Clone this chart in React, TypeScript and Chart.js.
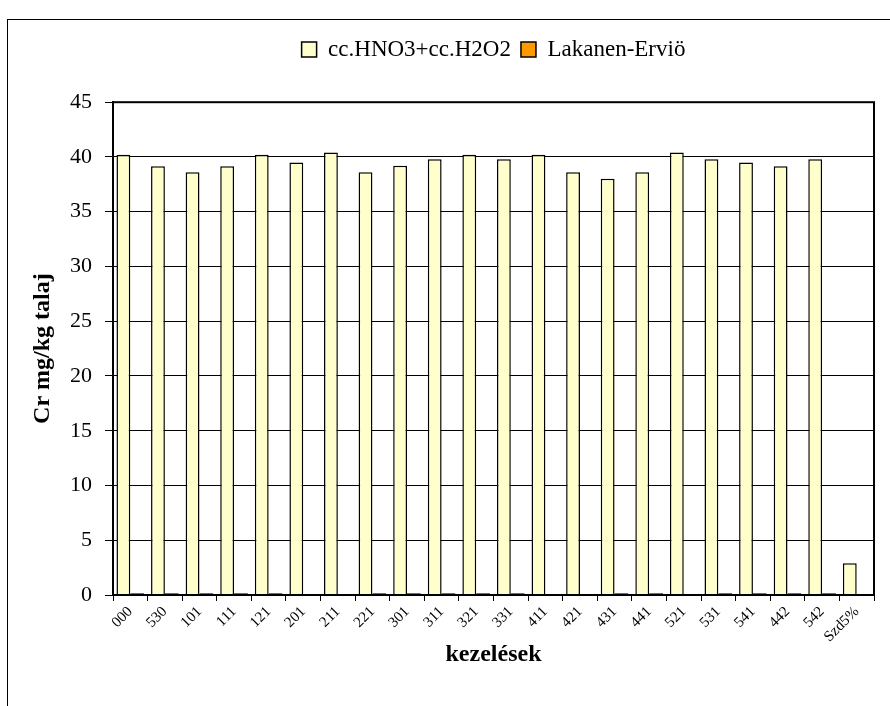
import React, { useEffect, useRef } from "react";
import { Chart, registerables } from "chart.js";

Chart.register(...registerables);

const categories = ["000", "530", "101", "111", "121", "201", "211", "221", "301", "311", "321", "331", "411", "421", "431", "441", "521", "531", "541", "442", "542", "Szd5%"];
const hno3Values = [40.2, 39.15, 38.6, 39.15, 40.2, 39.5, 40.4, 38.6, 39.2, 39.8, 40.2, 39.8, 40.2, 38.6, 38.0, 38.6, 40.4, 39.8, 39.5, 39.15, 39.8, 2.9];
const lakanenValues = [0.15, 0.15, 0.15, 0.15, 0.15, null, null, 0.15, 0.15, 0.15, 0.15, 0.15, null, null, 0.15, 0.15, null, 0.15, 0.15, 0.15, 0.15, null];
const seriesNames = ["cc.HNO3+cc.H2O2", "Lakanen-Erviö"];
const yTitle = "Cr mg/kg talaj";
const xTitle = "kezelések";

const FONT = "'Liberation Serif', 'Times New Roman', serif";

const framePlugin = {
  id: "frame",
  afterDraw(chart: any) {
    const { ctx, chartArea } = chart;
    ctx.save();
    ctx.strokeStyle = "#000";
    ctx.lineWidth = 2;
    ctx.strokeRect(chartArea.left, chartArea.top, chartArea.right - chartArea.left, chartArea.bottom - chartArea.top);
    ctx.restore();
  },
};

export default function App() {
  const ref = useRef<HTMLCanvasElement | null>(null);

  useEffect(() => {
    if (!ref.current) return;
    const chart = new Chart(ref.current, {
      type: "bar",
      data: {
        labels: categories,
        datasets: [
          {
            label: seriesNames[0],
            data: hno3Values,
            backgroundColor: "#FFFFCC",
            borderColor: "#000",
            borderWidth: 1.5,
            borderSkipped: "bottom",
          },
          {
            label: seriesNames[1],
            data: lakanenValues as any,
            backgroundColor: "#FF9900",
            borderColor: "#000",
            borderWidth: 1.5,
            borderSkipped: "bottom",
          },
        ],
      },
      options: {
        animation: false,
        responsive: false,
        devicePixelRatio: 1,
        layout: { padding: { top: 28, right: 16, bottom: 0, left: 0 } },
        datasets: { bar: { barPercentage: 1, categoryPercentage: 0.8 } },
        plugins: {
          tooltip: { enabled: false },
          legend: {
            position: "top",
            fullSize: false,
            labels: {
              color: "#000",
              font: { family: FONT, size: 23 },
              boxWidth: 15,
              boxHeight: 15,
              padding: 10,
            },
          },
          title: {
            display: true,
            text: "",
            weight: 500,
            font: { size: 1 },
            padding: { top: 0, bottom: 30 },
          } as any,
        },
        scales: {
          x: {
            type: "category",
            afterFit: (s: any) => {
              s.height = 111;
            },
            border: { display: true, color: "#000", width: 2 },
            grid: { display: true, drawOnChartArea: false, offset: true, tickLength: 6, color: "#000", lineWidth: 1 },
            ticks: {
              color: "#000",
              font: { family: FONT, size: 15 },
              maxRotation: 45,
              minRotation: 45,
              autoSkip: false,
              padding: 2,
            },
            title: {
              display: true,
              text: xTitle,
              color: "#000",
              font: { family: FONT, size: 24, weight: "bold" },
              padding: { top: 4, bottom: 37 },
            },
          },
          y: {
            min: 0,
            max: 45,
            afterFit: (s: any) => {
              s.width = 113;
            },
            border: { display: true, color: "#000", width: 2 },
            grid: { color: "#000", lineWidth: 1, tickLength: 8 },
            ticks: {
              stepSize: 5,
              color: "#000",
              font: { family: FONT, size: 22 },
              padding: 13,
            },
            title: {
              display: true,
              text: yTitle,
              color: "#000",
              font: { family: FONT, size: 24, weight: "bold" },
              padding: { top: 28, bottom: 0 },
            },
          },
        },
      },
      plugins: [framePlugin],
    });
    return () => chart.destroy();
  }, []);

  return (
    <div style={{ position: "fixed", left: 0, top: 0, width: 890, height: 706, background: "#fff", overflow: "hidden" }}>
      <div
        style={{
          position: "absolute",
          left: 7,
          top: 19,
          width: 900,
          height: 700,
          borderTop: "1.5px solid #000",
          borderLeft: "1.5px solid #000",
          pointerEvents: "none",
        }}
      />
      <canvas ref={ref} width={890} height={706} style={{ position: "absolute", left: 0, top: 0, width: 890, height: 706 }} />
    </div>
  );
}
